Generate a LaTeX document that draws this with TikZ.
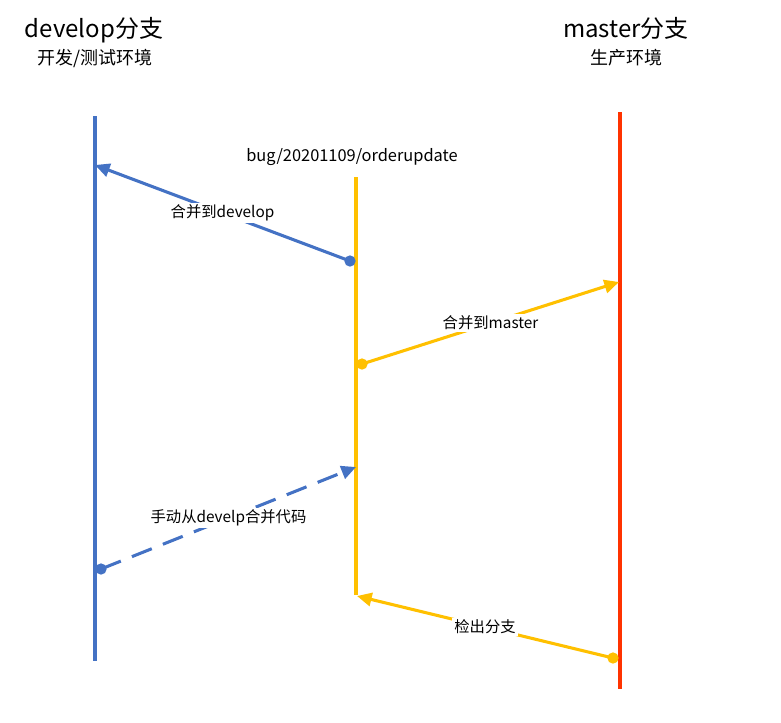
\documentclass[tikz,border=0pt]{standalone}
\usepackage{fontspec}
\setmainfont{Noto Sans CJK SC}
\usetikzlibrary{arrows.meta}
\definecolor{devblue}{HTML}{4472C4}
\definecolor{bugyellow}{HTML}{FFC000}
\definecolor{masterred}{HTML}{FF3300}
\tikzstyle{branch}=[draw,line width=2.3pt]
\tikzstyle{flow}=[draw,line width=2.3pt,-{Triangle[length=11pt,width=10pt]}]
\tikzstyle{dot}=[circle,fill,inner sep=0pt,minimum size=8.5pt]
\tikzstyle{lbl}=[fill=white,inner sep=1.5pt,font=\fontsize{11.5}{13}\selectfont]
\tikzstyle{title}=[font=\fontsize{18}{21}\selectfont]
\tikzstyle{sub}=[font=\fontsize{13.5}{16}\selectfont]

\begin{document}
\begin{tikzpicture}[x=0.75pt,y=-0.75pt]
\useasboundingbox (0,0) rectangle (781,722);
% branch titles
\node[title] (devtitle) at (94,30) {develop分支};
\node[sub] (devsub) at (95,58) {开发/测试环境};
\node[title] (mastitle) at (626,28) {master分支};
\node[sub] (massub) at (626,58) {生产环境};
\node[font=\fontsize{12.3}{14}\selectfont] (bugtitle) at (352,157) {bug/20201109/orderupdate};
% branch lines
\coordinate (devtop) at (95,116);
\coordinate (devbot) at (95,661);
\coordinate (bugtop) at (356,177);
\coordinate (bugbot) at (356,595);
\coordinate (mastop) at (620,112);
\coordinate (masbot) at (620,689);
\path[branch,devblue] (devtop) -- (devbot);
\path[branch,bugyellow] (bugtop) -- (bugbot);
\path[branch,masterred] (mastop) -- (masbot);
% merges
\node[dot,devblue] (d1) at (350,261) {};
\coordinate (e1) at (95,165);
\path[flow,devblue] (d1.center) -- node[lbl,text=black] (l1) {合并到develop} (e1);
\node[dot,bugyellow] (d2) at (362,364) {};
\coordinate (e2) at (619,282);
\path[flow,bugyellow] (d2.center) -- node[lbl,text=black] (l2) {合并到master} (e2);
\node[dot,devblue] (d3) at (101,569) {};
\coordinate (e3) at (356,467);
\path[flow,devblue,dash pattern=on 16pt off 9pt] (d3.center) -- node[lbl,text=black] (l3) {手动从develp合并代码} (e3);
\node[dot,bugyellow] (d4) at (613,658) {};
\coordinate (e4) at (357,596);
\path[flow,bugyellow] (d4.center) -- node[lbl,text=black] (l4) {检出分支} (e4);
\end{tikzpicture}
\end{document}
